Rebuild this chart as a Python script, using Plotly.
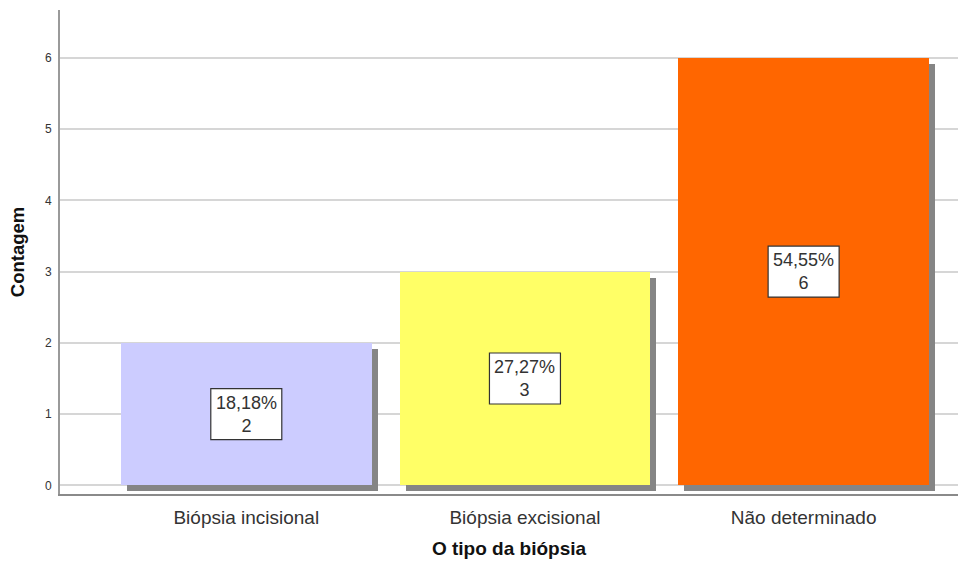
import plotly.graph_objects as go

# Frequência por tipo de biópsia
categorias = ["Biópsia incisional", "Biópsia excisional", "Não determinado"]
contagens = [2, 3, 6]
percentuais = ["18,18%", "27,27%", "54,55%"]
cores = ["#ccccff", "#ffff66", "#ff6600"]

LARGURA = 0.9          # largura da barra em unidades de categoria
SOMBRA_X = 6 / 279     # deslocamento da sombra (unidades de categoria)
SOMBRA_Y = 0.084       # deslocamento da sombra (unidades de contagem)

fig = go.Figure()

# sombra cinza atrás de cada barra
fig.add_trace(go.Bar(
    x=categorias, y=contagens, base=[-SOMBRA_Y] * len(contagens),
    width=LARGURA, offset=-LARGURA / 2 + SOMBRA_X,
    marker=dict(color="#858585", line=dict(width=0)),
    hoverinfo="skip", showlegend=False,
))

# barras principais
fig.add_trace(go.Bar(
    x=categorias, y=contagens, width=LARGURA, offset=-LARGURA / 2,
    marker=dict(color=cores, line=dict(width=0)),
    showlegend=False,
))

# rótulos: caixa branca com percentual e contagem no meio da barra
for i, (cat, n, pct) in enumerate(zip(categorias, contagens, percentuais)):
    meio = n / 2
    fig.add_shape(
        type="rect", xref="x", yref="y",
        xsizemode="pixel", ysizemode="pixel",
        xanchor=i, yanchor=meio,
        x0=-35.5, x1=35.5, y0=-25.5, y1=25.5,
        fillcolor="white", line=dict(color="#333333", width=1.2),
        layer="above",
    )
    fig.add_annotation(
        x=cat, y=meio, text=f"{pct}<br>{n}", showarrow=False,
        font=dict(family="Liberation Sans, Arial", size=18, color="#333333"),
    )

fig.update_layout(
    width=959, height=565,
    margin=dict(l=60, r=1, t=10, b=71),
    paper_bgcolor="white", plot_bgcolor="white",
    barmode="overlay", bargap=0,
    font=dict(family="Liberation Sans, Arial", color="#333333"),
    xaxis=dict(
        type="category",
        range=[-0.6685, 2.554],
        showgrid=False,
        showline=True, linecolor="#8a8a8a", linewidth=2,
        ticks="outside", ticklen=5, tickcolor="rgba(0,0,0,0)",
        tickfont=dict(size=19, color="#333333"),
        title=dict(text="<b>O tipo da biópsia</b>", standoff=15,
                   font=dict(size=19, color="#111111")),
        zeroline=False, fixedrange=True,
    ),
    yaxis=dict(
        range=[-0.12, 6.67],
        tickvals=[0, 1, 2, 3, 4, 5, 6],
        showgrid=True, gridcolor="#d6d6d6", gridwidth=1.5,
        zeroline=False,
        showline=True, linecolor="#9a9a9a", linewidth=2,
        ticks="outside", ticklen=4, tickcolor="rgba(0,0,0,0)",
        tickfont=dict(size=12, color="#333333"),
        title=dict(text="<b>Contagem</b>", standoff=15,
                   font=dict(size=18.5, color="#111111")),
        fixedrange=True,
    ),
)

fig.write_html("out.html")
